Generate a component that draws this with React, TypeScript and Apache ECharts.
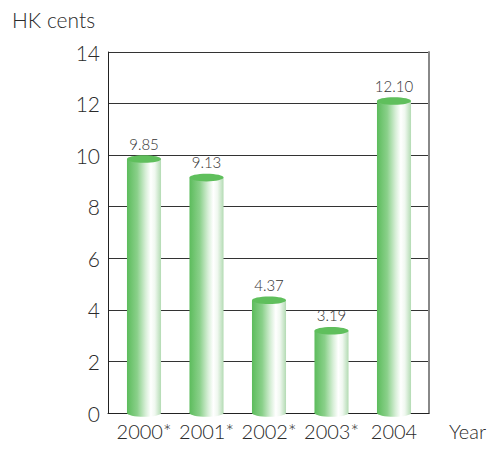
import React, { useEffect, useRef } from "react";
import * as echarts from "echarts";

const categories = ["2000*", "2001*", "2002*", "2003*", "2004"];
const values = [9.85, 9.13, 4.37, 3.19, 12.1];
const valueLabels = ["9.85", "9.13", "4.37", "3.19", "12.10"];
const yMin = 0;
const yMax = 14;
const yInterval = 2;

const FONT = "Lato, 'Open Sans', sans-serif";
const TEXT = "#2a2a2a";

export default function App() {
  const ref = useRef<HTMLDivElement>(null);
  useEffect(() => {
    if (!ref.current) return;
    const chart = echarts.init(ref.current, null, { renderer: "svg" });
    const grad = () =>
      new echarts.graphic.LinearGradient(0, 0, 1, 0, [
        { offset: 0, color: "#5cbc5c" },
        { offset: 0.3, color: "#8ad08a" },
        { offset: 0.55, color: "#d8efd8" },
        { offset: 0.7, color: "#ffffff" },
        { offset: 0.82, color: "#f0f8f0" },
        { offset: 1, color: "#b3dbb3" },
      ]);
    const option: any = {
      animation: false,
      backgroundColor: "#ffffff",
      textStyle: { fontFamily: FONT },
      grid: [
        { left: 108, right: 64, top: 52, bottom: 39 },
        { left: 112.75, width: 312.5, top: 52, bottom: 39 },
      ],
      xAxis: [
        {
          type: "category",
          gridIndex: 0,
          data: categories,
          axisLine: { show: true, lineStyle: { color: "#222", width: 1 } },
          axisTick: { show: false },
          axisLabel: { show: false },
          splitLine: { show: false },
        },
        {
          type: "category",
          gridIndex: 1,
          data: categories,
          axisLine: { show: false },
          axisTick: { show: false },
          axisLabel: {
            show: true,
            interval: 0,
            color: TEXT,
            fontSize: 20,
            fontWeight: 300,
            fontFamily: FONT,
            margin: 8,
          },
          splitLine: { show: false },
        },
      ],
      yAxis: [
        {
          type: "value",
          gridIndex: 0,
          min: yMin,
          max: yMax,
          interval: yInterval,
          axisLine: { show: true, lineStyle: { color: "#222", width: 1 } },
          axisTick: { show: false },
          axisLabel: {
            color: TEXT,
            fontSize: 21,
            fontWeight: 300,
            fontFamily: FONT,
            margin: 8,
          },
          splitLine: { show: true, lineStyle: { color: "#333", width: 1 } },
        },
        {
          type: "value",
          gridIndex: 0,
          position: "right",
          min: yMin,
          max: yMax,
          interval: yInterval,
          axisLine: { show: true, lineStyle: { color: "#888", width: 2 } },
          axisTick: { show: false },
          axisLabel: { show: false },
          splitLine: { show: false },
        },
        {
          type: "value",
          gridIndex: 1,
          min: yMin,
          max: yMax,
          interval: yInterval,
          show: false,
        },
      ],
      graphic: [
        {
          type: "text",
          left: 12,
          top: 9,
          style: { text: "HK cents", fontSize: 21, fontWeight: 300, fill: TEXT, fontFamily: FONT },
        },
        {
          type: "text",
          left: 449,
          top: 421,
          style: { text: "Year", fontSize: 20, fontWeight: 300, fill: TEXT, fontFamily: FONT },
        },
      ],
      series: [
        {
          type: "custom",
          xAxisIndex: 1,
          yAxisIndex: 2,
          z: 5,
          data: values.map((v, i) => [i, v]),
          renderItem: (params: any, api: any) => {
            const idx = params.dataIndex;
            const x = api.value(0);
            const v = api.value(1);
            const top = api.coord([x, v]);
            const base = api.coord([x, 0]);
            const w = api.size([1, 0])[0] * 0.545;
            const cx = top[0];
            const ry = 3.8;
            return {
              type: "group",
              children: [
                {
                  type: "ellipse",
                  shape: { cx, cy: base[1], rx: w / 2, ry },
                  style: { fill: grad() },
                },
                {
                  type: "rect",
                  shape: { x: cx - w / 2, y: top[1], width: w, height: base[1] - top[1] },
                  style: { fill: grad() },
                },
                {
                  type: "ellipse",
                  shape: { cx, cy: top[1], rx: w / 2, ry },
                  style: { fill: "#5fbf5c" },
                },
                {
                  type: "text",
                  style: {
                    text: valueLabels[idx],
                    x: cx,
                    y: top[1] - ry - 4,
                    align: "center",
                    verticalAlign: "bottom",
                    fontSize: 15,
                    fontWeight: 300,
                    fill: "#333",
                    fontFamily: FONT,
                  },
                },
              ],
            };
          },
        },
      ],
    };
    chart.setOption(option);
    return () => chart.dispose();
  }, []);
  return (
    <div
      ref={ref}
      style={{ position: "absolute", left: 0, top: 0, width: 493, height: 452 }}
    />
  );
}
